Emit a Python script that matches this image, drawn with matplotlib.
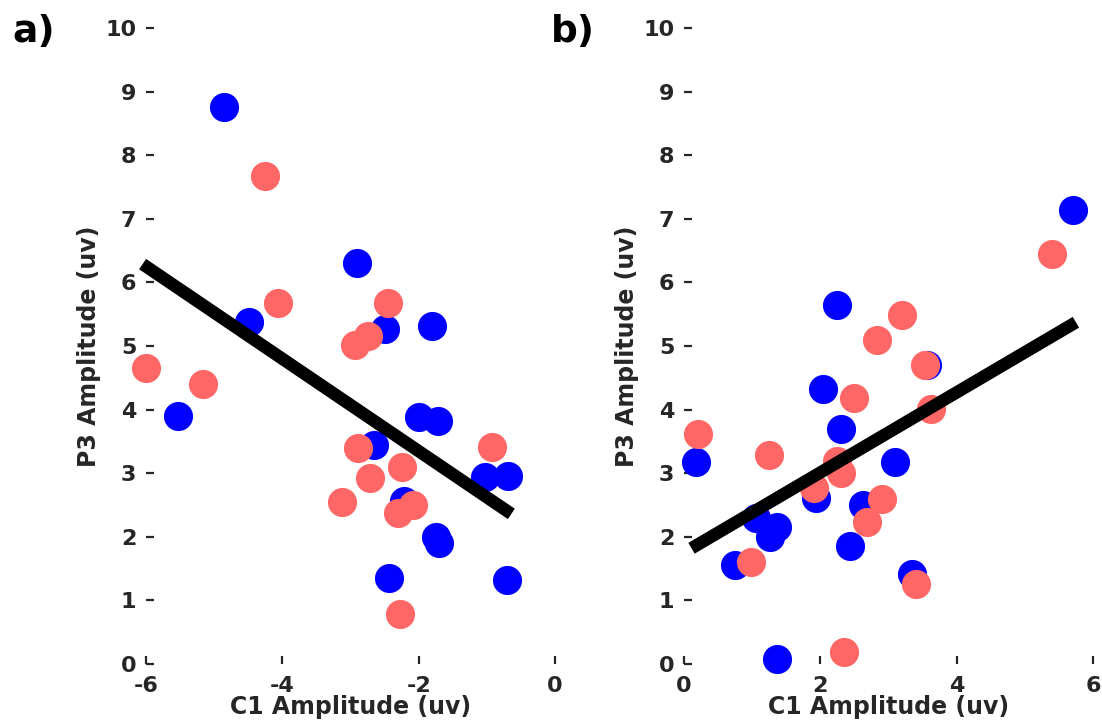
import numpy as np
import matplotlib
matplotlib.use("Agg")
import matplotlib.pyplot as plt

plt.rcParams['axes.unicode_minus'] = False

# panel a data (C1 amplitude negative)
a_blue_x = [-4.85, -2.91, -4.49, -2.50, -1.81, -5.53, -1.99, -1.72, -2.65, -1.03,
            -0.69, -2.21, -1.74, -1.70, -2.44, -0.71]
a_blue_y = [8.76, 6.30, 5.38, 5.27, 5.32, 3.90, 3.88, 3.82, 3.45, 2.94,
            2.95, 2.57, 2.00, 1.90, 1.35, 1.32]
a_red_x = [-4.26, -4.07, -2.45, -2.93, -2.75, -6.00, -5.17, -2.89, -0.92, -2.25,
           -2.71, -3.13, -2.08, -2.30, -2.27]
a_red_y = [7.68, 5.67, 5.67, 5.01, 5.16, 4.66, 4.40, 3.39, 3.41, 3.09,
           2.93, 2.54, 2.50, 2.37, 0.78]
# fitted line: slope, intercept, x range
a_fit = (-0.726, 1.895, -6.05, -0.64)

# panel b data
b_blue_x = [5.70, 2.25, 3.57, 2.04, 2.30, 0.18, 3.09, 1.94, 2.63, 1.06,
            1.36, 1.26, 2.44, 0.75, 3.35, 1.36]
b_blue_y = [7.14, 5.64, 4.70, 4.32, 3.70, 3.17, 3.17, 2.61, 2.50, 2.29,
            2.16, 1.99, 1.86, 1.55, 1.42, 0.08]
b_red_x = [5.40, 3.20, 2.83, 3.53, 2.49, 3.63, 0.21, 1.24, 2.25, 2.30,
           1.91, 2.91, 2.69, 0.99, 3.41, 2.35]
b_red_y = [6.45, 5.48, 5.09, 4.70, 4.18, 4.01, 3.62, 3.28, 3.19, 3.00,
           2.77, 2.59, 2.24, 1.60, 1.25, 0.19]
b_fit = (0.63, 1.75, 0.11, 5.75)

blue = '#0000ff'
red = '#ff6666'
grey = '#262626'

fig = plt.figure(figsize=(11.02, 7.21), dpi=100)
ax_a = fig.add_axes([0.1325, 0.0791, 0.3711, 0.8821])
ax_b = fig.add_axes([0.6207, 0.0791, 0.3711, 0.8821])


def draw_panel(ax, bx, by, rx, ry, fit, xlim, xticks, letter, letter_x):
    ax.scatter(bx, by, s=440, color=blue, linewidths=0, zorder=2, clip_on=False)
    ax.scatter(rx, ry, s=440, color=red, linewidths=0, zorder=3, clip_on=False)

    slope, icpt, x0, x1 = fit
    xs = np.array([x0, x1])
    ax.plot(xs, slope * xs + icpt, color='black', lw=9, solid_capstyle='butt',
            zorder=4, clip_on=False)

    ax.set_xlim(xlim)
    ax.set_ylim(0, 10)
    ax.set_xticks(xticks)
    ax.set_yticks(range(0, 11))
    for s in ax.spines.values():
        s.set_visible(False)
    ax.tick_params(direction='in', length=6, width=1.6, color=grey,
                   labelsize=16, labelcolor=grey)
    ax.tick_params(axis='x', pad=9)
    ax.tick_params(axis='y', pad=7)
    for lab in ax.get_xticklabels() + ax.get_yticklabels():
        lab.set_fontweight('bold')
    ax.set_xlabel('C1 Amplitude (uv)', fontsize=17, fontweight='bold',
                  color=grey, labelpad=-1)
    ax.set_ylabel('P3 Amplitude (uv)', fontsize=17, fontweight='bold',
                  color=grey, labelpad=3)
    fig.text(letter_x, 0.955, letter, fontsize=27, fontweight='bold',
             ha='left', va='center')


draw_panel(ax_a, a_blue_x, a_blue_y, a_red_x, a_red_y, a_fit,
           (-6, 0), [-6, -4, -2, 0], 'a)', 0.011)
draw_panel(ax_b, b_blue_x, b_blue_y, b_red_x, b_red_y, b_fit,
           (0, 6), [0, 2, 4, 6], 'b)', 0.4995)

fig.savefig('out.png', dpi=100)
